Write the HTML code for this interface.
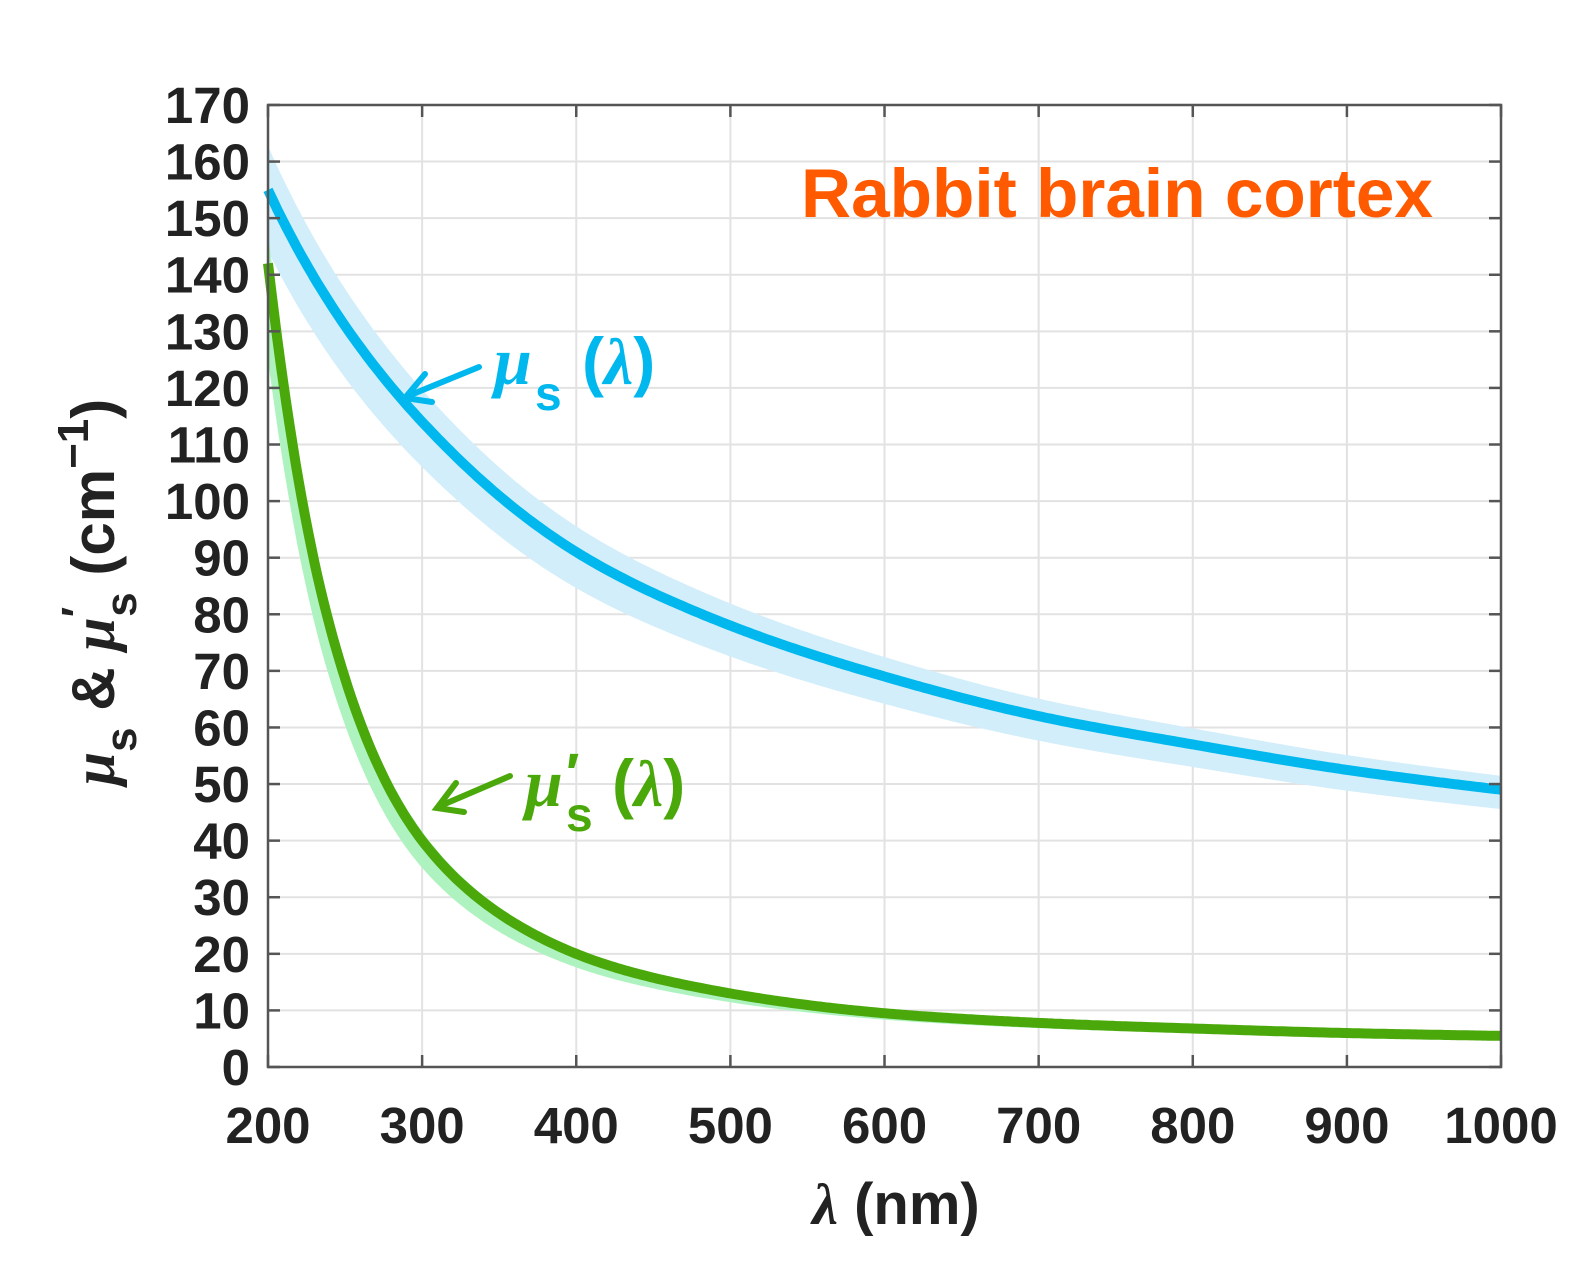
<!DOCTYPE html>
<html><head><meta charset="utf-8"><style>html,body{margin:0;padding:0;background:#fff}svg{display:block}</style></head>
<body>
<svg id="s" width="1595" height="1271" xmlns="http://www.w3.org/2000/svg" font-family="Liberation Sans, sans-serif">
<rect width="1595" height="1271" fill="#fff"/>
<g id="grid" stroke="#e2e2e2" stroke-width="2"></g>
<g id="bands"></g>
<g id="lines"></g>
<rect x="268" y="105" width="1233" height="962" fill="none" stroke="#555" stroke-width="2.5"/>
<g id="ticks" stroke="#555" stroke-width="2.5"></g>
<g id="yl" font-weight="bold" font-size="51" fill="#222" text-anchor="end"></g>
<g id="xl" font-weight="bold" font-size="51" fill="#222" text-anchor="middle"></g>
<text x="801" y="217" font-size="69" font-weight="bold" fill="#ff5a00" textLength="632" lengthAdjust="spacingAndGlyphs">Rabbit brain cortex</text>
<!-- blue label -->
<g stroke="#00b8ee" stroke-width="6" fill="none" stroke-linecap="round">
<line x1="479" y1="367" x2="408" y2="396"/>
<polyline points="425,374 405,398 432,402"/>
</g>
<text x="494" y="384" font-family="Liberation Serif, serif" font-style="italic" font-weight="bold" font-size="68" fill="#00b8ee">μ</text>
<text x="535" y="410" font-size="48" font-weight="bold" fill="#00b8ee">s</text>
<text x="582" y="384" font-size="66" font-weight="bold" fill="#00b8ee">(<tspan font-family="Liberation Serif, serif" font-style="italic">λ</tspan>)</text>
<!-- green label -->
<g stroke="#4aa80a" stroke-width="6" fill="none" stroke-linecap="round">
<line x1="510" y1="776" x2="440" y2="806"/>
<polyline points="456,783 437,808 464,812"/>
</g>
<text x="525" y="806" font-family="Liberation Serif, serif" font-style="italic" font-weight="bold" font-size="68" fill="#4aa80a">μ</text>
<text x="566" y="792" font-family="Liberation Sans, sans-serif" font-weight="bold" font-size="56" fill="#4aa80a">′</text>
<text x="566" y="831" font-size="48" font-weight="bold" fill="#4aa80a">s</text>
<text x="612" y="806" font-size="66" font-weight="bold" fill="#4aa80a">(<tspan font-family="Liberation Serif, serif" font-style="italic">λ</tspan>)</text>
<!-- axis labels -->
<text x="896" y="1224" font-size="58" font-weight="bold" fill="#222" text-anchor="middle"><tspan font-family="Liberation Serif, serif" font-style="italic">λ</tspan> (nm)</text>
<g transform="translate(114,592) rotate(-90)">
<text x="0" y="0" font-size="60" font-weight="bold" fill="#222" text-anchor="middle"><tspan font-family="Liberation Serif, serif" font-style="italic">μ</tspan><tspan dy="22" font-size="44">s</tspan><tspan dy="-22"> &amp; </tspan><tspan font-family="Liberation Serif, serif" font-style="italic">μ</tspan><tspan dy="-22" font-size="44">′</tspan><tspan dy="44" dx="-10" font-size="44">s</tspan><tspan dy="-22"> (cm</tspan><tspan dy="-26" font-size="44">−1</tspan><tspan dy="26">)</tspan></text>
</g>
</svg>
<script>
const NS="http://www.w3.org/2000/svg";
const X=l=>268+(l-200)*1.5413, Y=v=>1067-v*5.659;
function el(p,t,a){const e=document.createElementNS(NS,t);for(const k in a)e.setAttribute(k,a[k]);document.getElementById(p).appendChild(e);return e;}
for(let l=300;l<=900;l+=100)el('grid','line',{x1:X(l),x2:X(l),y1:105,y2:1067});
for(let v=10;v<=160;v+=10)el('grid','line',{x1:268,x2:1501,y1:Y(v),y2:Y(v)});
for(let v=0;v<=170;v+=10){el('ticks','line',{x1:268,x2:280,y1:Y(v),y2:Y(v)});el('ticks','line',{x1:1489,x2:1501,y1:Y(v),y2:Y(v)});
 const t=el('yl','text',{x:250,y:Y(v)+18});t.textContent=v;}
for(let l=200;l<=1000;l+=100){el('ticks','line',{x1:X(l),x2:X(l),y1:1067,y2:1055});el('ticks','line',{x1:X(l),x2:X(l),y1:105,y2:117});
 const t=el('xl','text',{x:X(l),y:1143});t.textContent=l;}
const B=[[200,155],[300,114],[400,91],[500,78],[600,69],[700,62],[800,57],[900,52.5],[1000,49]];
const G=[[200,142],[240,78],[300,40],[400,20],[500,13],[600,9.5],[700,7.8],[800,6.8],[900,6],[1000,5.5]];
function f(P,l){const L=P.map(p=>[Math.log(p[0]),Math.log(p[1])]);const x=Math.log(l);
 let i=0;while(i<L.length-2&&L[i+1][0]<x)i++;
 const p1=L[i],p2=L[i+1];const p0=L[i-1]||[2*p1[0]-p2[0],2*p1[1]-p2[1]];const p3=L[i+2]||[2*p2[0]-p1[0],2*p2[1]-p1[1]];
 const h=p2[0]-p1[0];const t=(x-p1[0])/h;
 const m1=(p2[1]-p0[1])/(p2[0]-p0[0])*h, m2=(p3[1]-p1[1])/(p3[0]-p1[0])*h;
 const t2=t*t,t3=t2*t;
 const y=(2*t3-3*t2+1)*p1[1]+(t3-2*t2+t)*m1+(-2*t3+3*t2)*p2[1]+(t3-t2)*m2;return Math.exp(y);}
function path(P,k){let d='';for(let l=200;l<=1000;l+=2){d+=(l==200?'M':'L')+X(l).toFixed(1)+','+Y(f(P,l)*k).toFixed(1);}return d;}
function band(P,f1,f2,c){let d='';for(let l=200;l<=1000;l+=2)d+=(l==200?'M':'L')+X(l).toFixed(1)+','+Y(f(P,l)*f1).toFixed(1);
 for(let l=1000;l>=200;l-=2)d+='L'+X(l).toFixed(1)+','+Y(f(P,l)*f2).toFixed(1);el('bands','path',{d:d+'Z',fill:c});}
band(B,1.05,0.93,'#d2eefa');
band(G,1.04,0.88,'#aef3bf');
el('lines','path',{d:path(B,1),fill:'none',stroke:'#00b8ee','stroke-width':10});
el('lines','path',{d:path(G,1),fill:'none',stroke:'#4aa80a','stroke-width':10});
</script>
</body></html>
